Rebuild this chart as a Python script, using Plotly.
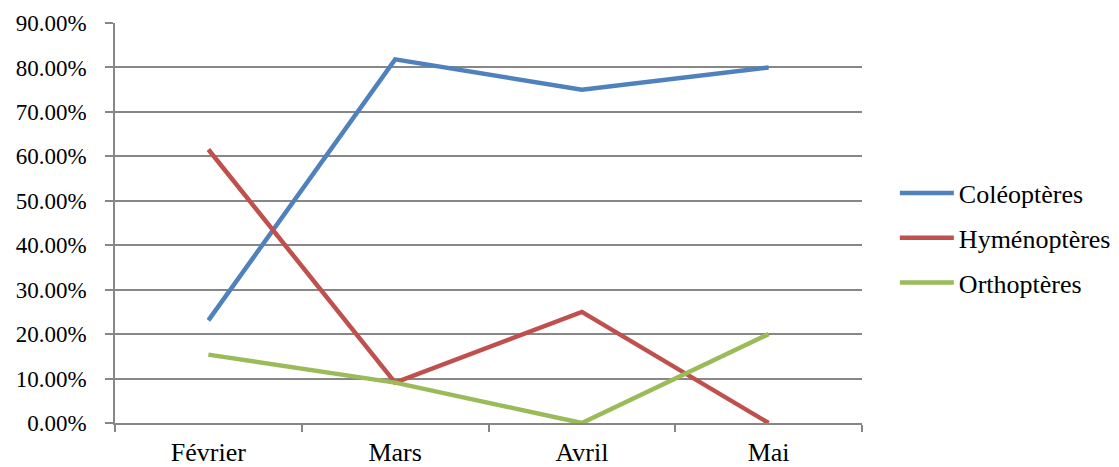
import plotly.graph_objects as go

months = ["Février", "Mars", "Avril", "Mai"]
coleopteres = [0.2308, 0.8182, 0.75, 0.80]
hymenopteres = [0.6154, 0.0909, 0.25, 0.0]
orthopteres = [0.1538, 0.0909, 0.0, 0.20]

series_names = ["Coléoptères", "Hyménoptères", "Orthoptères"]
series_values = [coleopteres, hymenopteres, orthopteres]
series_colors = ["#4F81BD", "#C0504D", "#9BBB59"]

FONT = "Liberation Serif"
GRID = "#878787"
TEXT = "#000000"

fig = go.Figure()
for name, vals, col in zip(series_names, series_values, series_colors):
    fig.add_trace(go.Scatter(
        x=months, y=vals, name=name, mode="lines",
        legendgroup=name,
        line=dict(color=col, width=4.5),
    ))

fig.update_layout(
    width=1119, height=467,
    margin=dict(l=115, r=257, t=23, b=44, autoexpand=False),
    paper_bgcolor="white", plot_bgcolor="white",
    font=dict(family=FONT, size=26, color=TEXT),
    showlegend=True,
    legend=dict(
        x=1.044, y=0.4625, xanchor="left", yanchor="middle",
        traceorder="grouped", tracegroupgap=8,
        itemwidth=54,
        font=dict(family=FONT, size=26, color=TEXT),
        bgcolor="rgba(0,0,0,0)",
    ),
)

fig.update_xaxes(
    type="category",
    showgrid=False,
    showline=True, linecolor=GRID, linewidth=1.5,
    ticks="outside", ticklen=7, tickcolor=GRID, tickwidth=1.5,
    tickson="boundaries",
    tickfont=dict(family=FONT, size=26, color=TEXT),
    ticklabelstandoff=5,
    range=[-0.5, 3.5],
)
fig.update_yaxes(
    range=[0, 0.9], dtick=0.1, tick0=0,
    tickformat=".2%",
    showgrid=True, gridcolor=GRID, gridwidth=1.5,
    showline=True, linecolor=GRID, linewidth=1.5,
    ticks="outside", ticklen=8, tickcolor=GRID, tickwidth=1.5,
    zeroline=False,
    tickfont=dict(family=FONT, size=23, color=TEXT),
    ticklabelstandoff=14,
)

fig.write_html("out.html")
